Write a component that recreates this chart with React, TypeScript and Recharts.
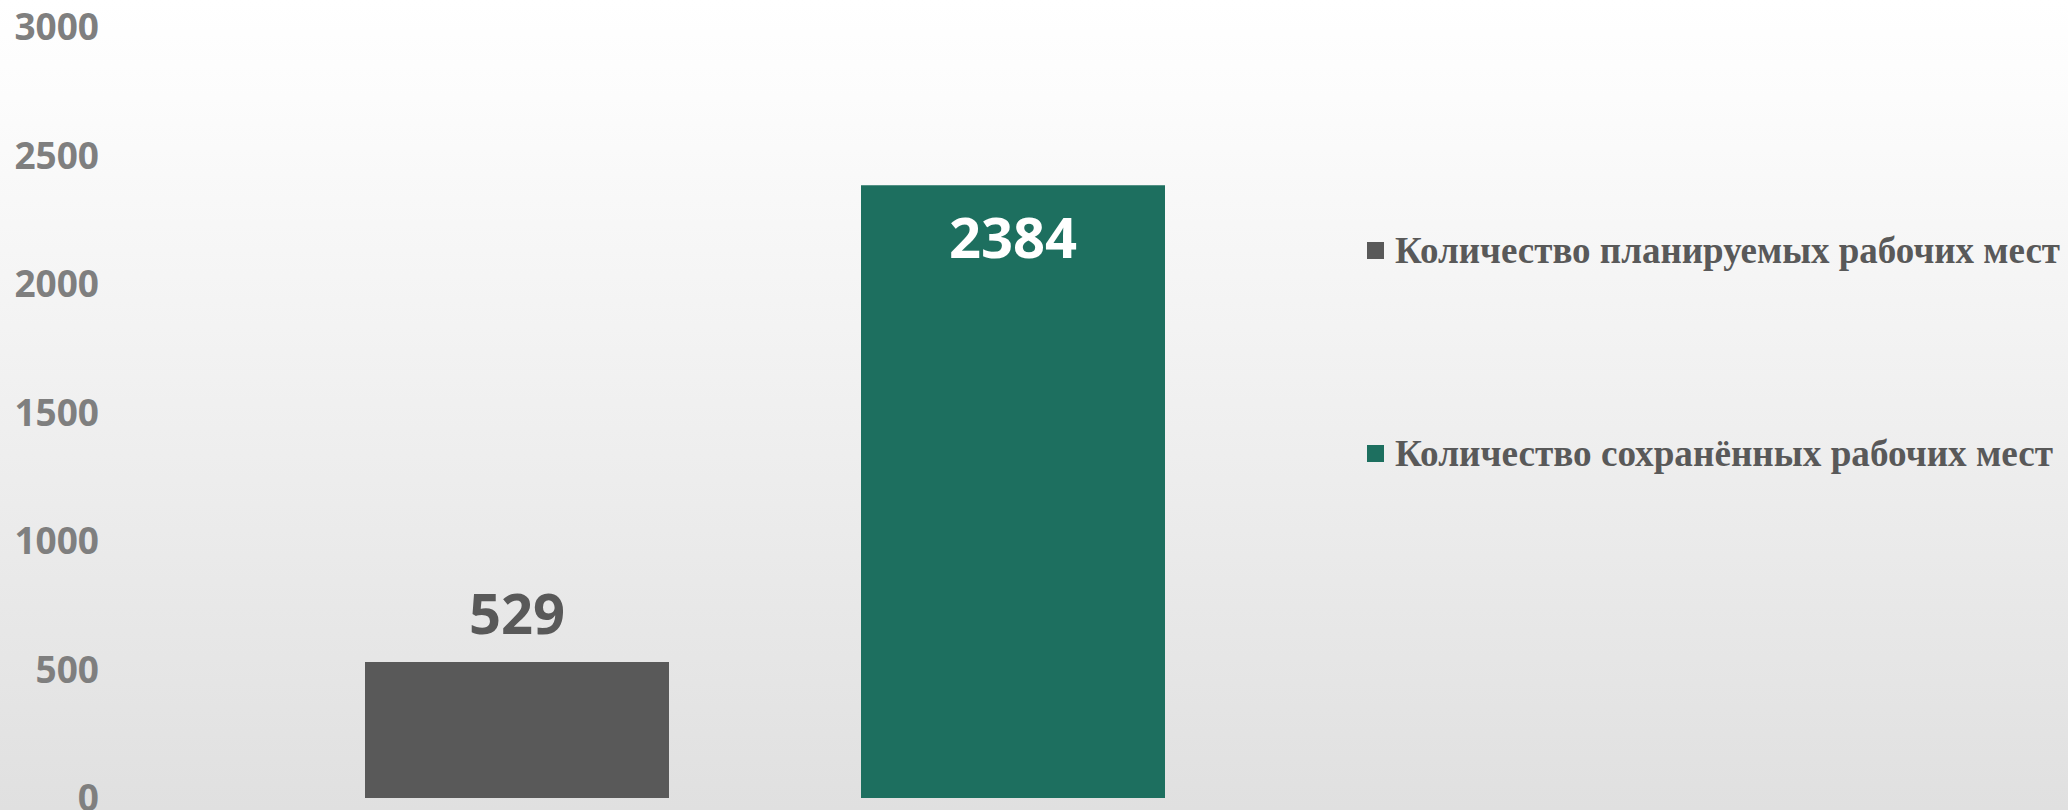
import React from 'react';
import { BarChart, Bar, XAxis, YAxis, Legend, LabelList } from 'recharts';

const categories = [''];
const seriesNames = ['Количество планируемых рабочих мест', 'Количество сохранённых рабочих мест'];
const plannedJobs = [529];
const savedJobs = [2384];
const yTicks = [0, 500, 1000, 1500, 2000, 2500, 3000];

const GRAY = '#595959';
const GREEN = '#1d6f5f';

const chartData = categories.map((name, i) => ({
    name,
    planned: plannedJobs[i],
    saved: savedJobs[i],
}));

// label above the gray bar
const PlannedLabel = (props: any) => {
    const { x, y, width, value } = props;
    return (
        <text
            x={x + width / 2}
            y={y - 28}
            textAnchor="middle"
            fontFamily="'Open Sans', sans-serif"
            fontWeight={700}
            fontSize={56}
            fill={GRAY}>
            {value}
        </text>
    );
};

// label inside the top of the green bar
const SavedLabel = (props: any) => {
    const { x, y, width, value } = props;
    return (
        <text
            x={x + width / 2}
            y={y + 73}
            textAnchor="middle"
            fontFamily="'Open Sans', sans-serif"
            fontWeight={700}
            fontSize={56}
            fill="#ffffff">
            {value}
        </text>
    );
};

const legendWidths = [665, 658];
const legendRows = [0, 203];

const renderLegend = (props: any) => {
    const payload = props.payload || [];
    return (
        <svg width={708} height={260} style={{ display: 'block' }}>
            {payload.map((entry: any, i: number) => (
                <g key={i} transform={`translate(0, ${legendRows[i]})`}>
                    <rect x={7} y={17} width={17} height={17} fill={entry.color} />
                    <text
                        x={35}
                        y={38}
                        fontFamily="'Liberation Serif', serif"
                        fontWeight={700}
                        fontSize={38}
                        fill={GRAY}
                        textLength={legendWidths[i]}
                        lengthAdjust="spacingAndGlyphs">
                        {entry.value}
                    </text>
                </g>
            ))}
        </svg>
    );
};

const App = () => {
    return (
        <div
            style={{
                position: 'absolute',
                left: 0,
                top: 0,
                width: 2068,
                height: 810,
                background: 'linear-gradient(to bottom, #ffffff 0%, #fcfcfc 12%, #e0e0e0 100%)',
            }}>
            <BarChart
                width={2068}
                height={810}
                data={chartData}
                margin={{ top: 27, right: 638, bottom: 12, left: 0 }}
                barGap={192}>
                <XAxis dataKey="name" hide />
                <YAxis
                    width={99}
                    domain={[0, 3000]}
                    ticks={yTicks}
                    interval={0}
                    axisLine={false}
                    tickLine={false}
                    tickSize={0}
                    tickMargin={0}
                    tick={{
                        fill: '#7f7f7f',
                        fontSize: 37,
                        fontWeight: 700,
                        fontFamily: "'Open Sans', sans-serif",
                    }}
                />
                <Legend
                    layout="vertical"
                    align="center"
                    verticalAlign="middle"
                    content={renderLegend}
                    wrapperStyle={{ left: 1360, top: 225, width: 708, height: 260 }}
                />
                <Bar dataKey="planned" name={seriesNames[0]} fill={GRAY} barSize={304} isAnimationActive={false}>
                    <LabelList dataKey="planned" content={PlannedLabel} />
                </Bar>
                <Bar dataKey="saved" name={seriesNames[1]} fill={GREEN} barSize={304} isAnimationActive={false}>
                    <LabelList dataKey="saved" content={SavedLabel} />
                </Bar>
            </BarChart>
        </div>
    );
};

export default App;
